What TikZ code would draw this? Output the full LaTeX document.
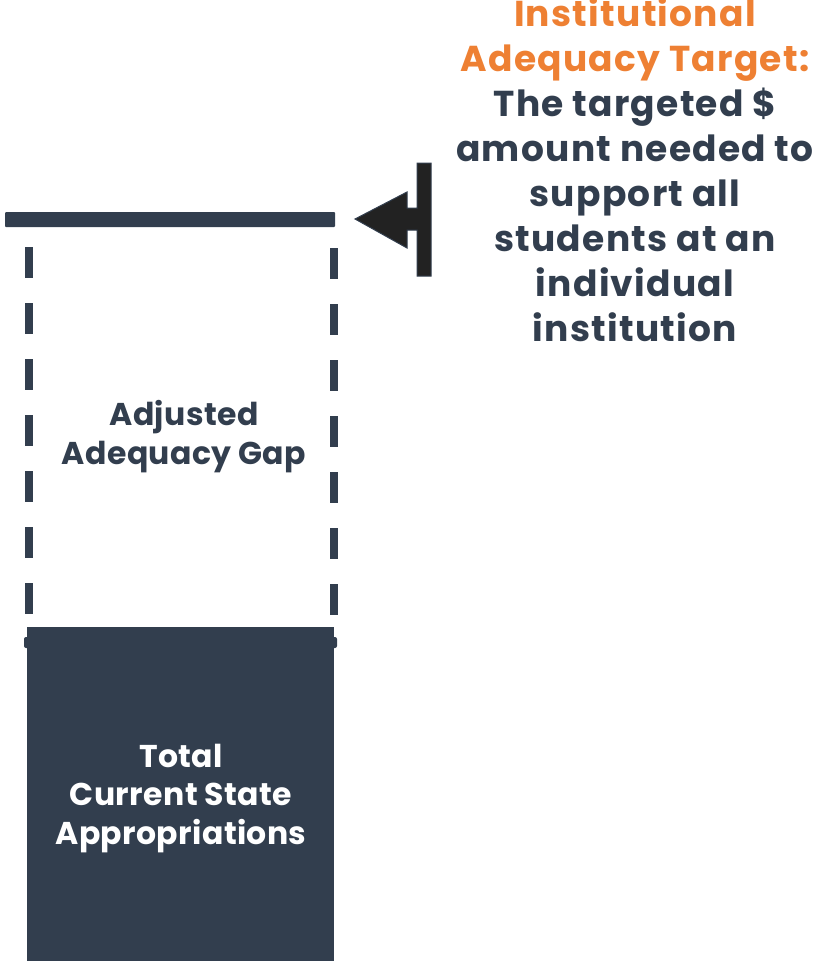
\documentclass[tikz,border=0pt]{standalone}
\usepackage{fontspec}
\setmainfont{Poppins}
\definecolor{navy}{HTML}{323E4E}
\definecolor{orng}{HTML}{EE8033}
\definecolor{arrowfill}{HTML}{222222}
\begin{document}
\begin{tikzpicture}[x=1pt,y=-1pt,
  bigtxt/.style={font=\bfseries\fontsize{36}{44.9}\selectfont\addfontfeatures{LetterSpace=3.5}, align=center, inner sep=0pt, text=navy},
  boxtxt/.style={font=\bfseries\fontsize{31.5}{38.5}\selectfont\addfontfeatures{LetterSpace=1.2}, align=center, inner sep=0pt},
  dashline/.style={draw=navy, line width=8pt, dash pattern=on 31pt off 25pt}]
\useasboundingbox (0,0) rectangle (821,963);
% target bar
\fill[navy, rounded corners=1pt] (5,212) rectangle (335,227);
\coordinate (barend) at (335,219.5);
% dashed sides
\coordinate (lt) at (29,247);
\coordinate (lb) at (29,614);
\coordinate (rt) at (333.5,248);
\coordinate (rb) at (333.5,615);
\draw[dashline] (lt) -- (lb);
\draw[dashline] (rt) -- (rb);
% bottom thin bar and state appropriations box
\fill[navy, rounded corners=2pt] (24,637) rectangle (337,648);
\node[fill=navy, minimum width=307pt, minimum height=334pt, inner sep=0pt, anchor=north west] (box) at (27,627) {};
% arrow
\draw[navy, line width=1pt, fill=arrowfill] (355,219) -- (407,192) -- (407,208) -- (417,208) -- (417,163) -- (431,163) -- (431,276) -- (417,276) -- (417,230) -- (407,230) -- (407,248) -- cycle;
% texts
\node[bigtxt, anchor=base] (target) at (635,341) {\textcolor{orng}{Institutional}\\\textcolor{orng}{Adequacy Target:}\\The targeted \$\\amount needed to\\support all\\students at an\\individual\\institution};
\node[boxtxt, text=navy, anchor=base] (gap) at (184,464) {Adjusted\\Adequacy Gap};
\node[boxtxt, text=white, anchor=base] (appr) at (181,844) {Total\\Current State\\Appropriations};
\end{tikzpicture}
\end{document}
